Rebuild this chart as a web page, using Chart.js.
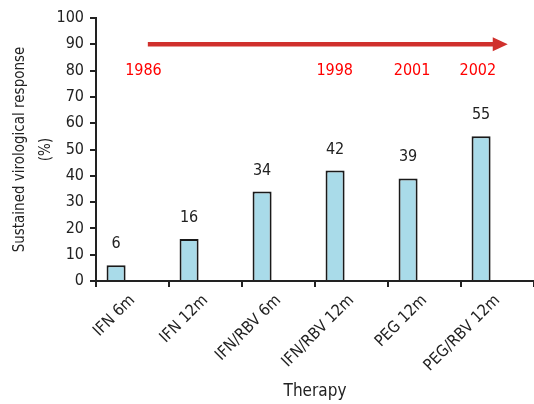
<!DOCTYPE html>
<html lang="en">
<head>
    <meta charset="UTF-8">
    <title>Sustained virological response by therapy</title>
    <script src="https://cdn.jsdelivr.net/npm/chart.js@4.4.3/dist/chart.umd.min.js"></script>
    <style>
        body { margin: 0; background: #fff; }
        #wrap { width: 534px; height: 404px; }
    </style>
</head>
<body>
    <div id="wrap"><canvas id="mychart"></canvas></div>
    <script>
        // data
        const therapies = ['IFN 6m', 'IFN 12m', 'IFN/RBV 6m', 'IFN/RBV 12m', 'PEG 12m', 'PEG/RBV 12m'];
        const svrValues = [6, 16, 34, 42, 39, 55];
        const emptySlot = [null, null, null, null, null, null]; // keeps bars left of centre
        const years = ['1986', '1998', '2001', '2002'];
        const yearAt = [0.15, 2.77, 3.83, 4.73];   // category index where each year sits
        const yearLevel = 80;
        const arrowFrom = 0.21, arrowTo = 5.14, arrowLevel = 90;

        const FONT = '"Liberation Sans Narrow", "DejaVu Sans Condensed", sans-serif';
        Chart.defaults.font.family = FONT;
        Chart.defaults.color = '#222';

        // values above bars, red arrow and years
        const overlay = {
            id: 'overlay',
            afterDatasetsDraw(chart) {
                const ctx = chart.ctx;
                const x = chart.scales.x, y = chart.scales.y;
                ctx.save();
                ctx.font = '16px ' + FONT;
                ctx.fillStyle = '#222';
                ctx.textAlign = 'center';
                ctx.textBaseline = 'alphabetic';
                chart.getDatasetMeta(0).data.forEach((bar, i) => {
                    ctx.fillText(String(svrValues[i]), bar.x, bar.y - 17);
                });

                // arrow
                const ay = y.getPixelForValue(arrowLevel);
                const x0 = x.getPixelForValue(arrowFrom);
                const x1 = x.getPixelForValue(arrowTo);
                ctx.strokeStyle = '#d0302c';
                ctx.fillStyle = '#d0302c';
                ctx.lineWidth = 4.5;
                ctx.beginPath();
                ctx.moveTo(x0, ay);
                ctx.lineTo(x1 - 12, ay);
                ctx.stroke();
                ctx.beginPath();
                ctx.moveTo(x1, ay);
                ctx.lineTo(x1 - 15, ay - 7);
                ctx.lineTo(x1 - 15, ay + 7);
                ctx.closePath();
                ctx.fill();

                // years
                ctx.fillStyle = '#ff0000';
                ctx.textBaseline = 'middle';
                years.forEach((yr, i) => {
                    ctx.fillText(yr, x.getPixelForValue(yearAt[i]), y.getPixelForValue(yearLevel));
                });
                ctx.restore();
            }
        };

        var config = {
            type: 'bar',
            data: {
                labels: therapies,
                datasets: [
                    {
                        data: svrValues,
                        backgroundColor: '#a9dbe9',
                        borderColor: '#1a1a1a',
                        borderWidth: 2,
                        categoryPercentage: 0.9,
                        barPercentage: 0.58
                    },
                    {
                        data: emptySlot,
                        categoryPercentage: 0.9,
                        barPercentage: 0.58
                    }
                ]
            },
            options: {
                responsive: true,
                maintainAspectRatio: false,
                animation: false,
                layout: { padding: { left: 2, top: 18, right: 0, bottom: 2 } },
                plugins: {
                    legend: { display: false },
                    tooltip: { enabled: false }
                },
                scales: {
                    x: {
                        grid: { drawOnChartArea: false, tickLength: 6, color: '#222', lineWidth: 2 },
                        border: { display: true, color: '#222', width: 2 },
                        ticks: { minRotation: 45, maxRotation: 45, padding: 4, font: { size: 16 } },
                        title: { display: true, text: 'Therapy', font: { size: 17 }, padding: 0 },
                        afterFit: s => { s.height = 404 - 281 - 2; }
                    },
                    y: {
                        min: 0,
                        max: 100,
                        grid: { drawOnChartArea: false, tickLength: 6, color: '#222', lineWidth: 2 },
                        border: { display: true, color: '#222', width: 2 },
                        ticks: { stepSize: 10, padding: 6, font: { size: 16 } },
                        title: {
                            display: true,
                            text: ['Sustained virological response', '(%)'],
                            font: { size: 15, lineHeight: 1.75 },
                            padding: { top: 5, bottom: 0 }
                        },
                        afterFit: s => { s.width = 96 - 2; }
                    }
                }
            },
            plugins: [overlay]
        };

        var mychart = new Chart(document.getElementById('mychart'), config);
    </script>
</body>
</html>
